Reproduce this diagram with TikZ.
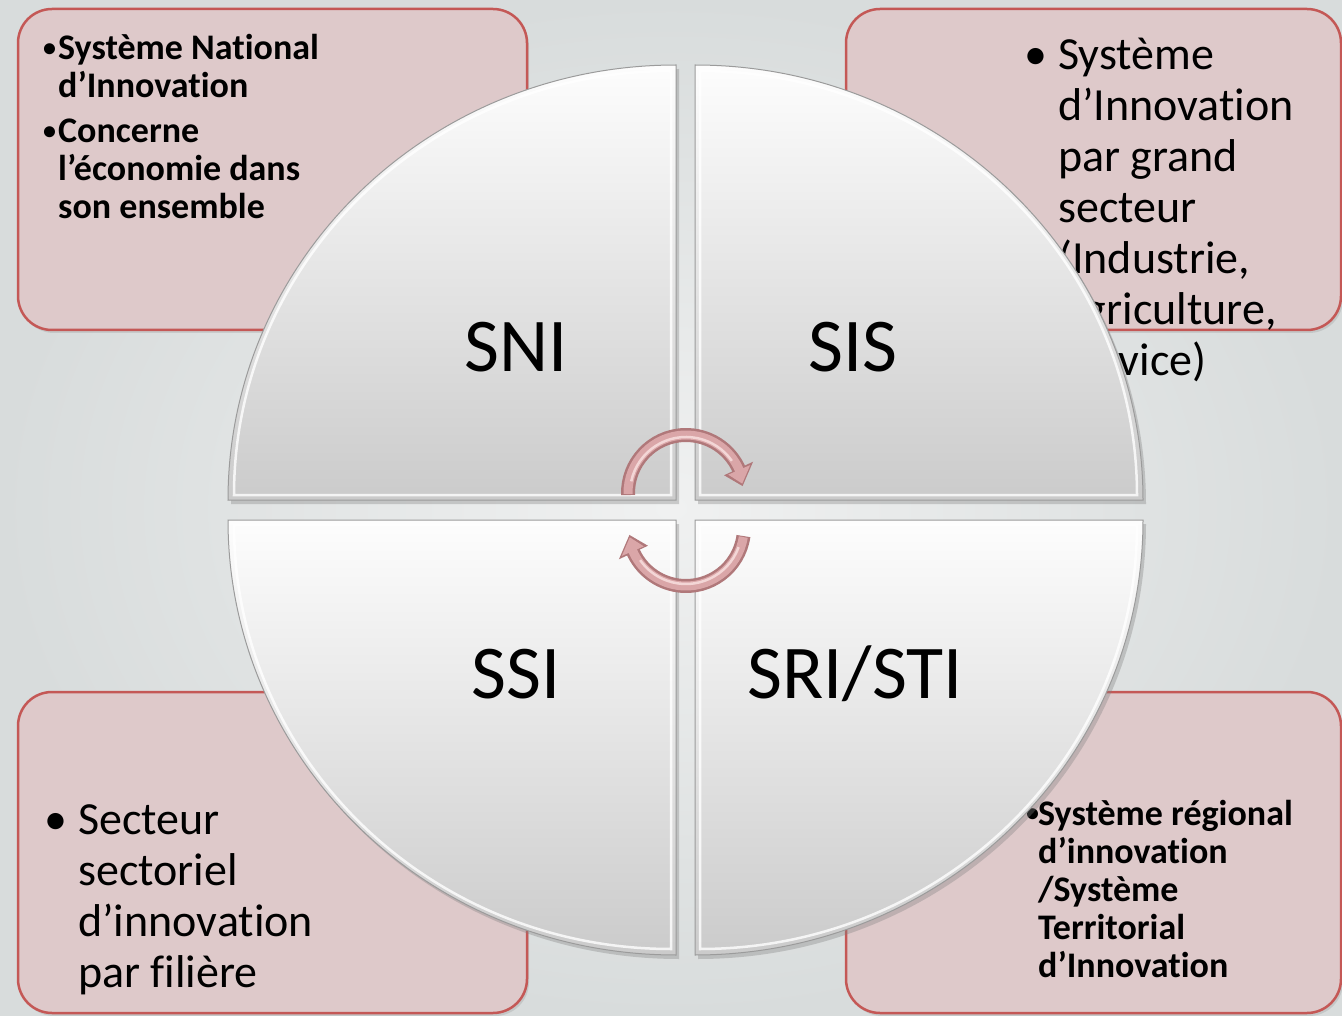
\documentclass[tikz,border=0pt]{standalone}
\usepackage{fontspec}
\setmainfont{Carlito}[Ligatures={NoCommon}]
\usetikzlibrary{calc,shadows}
\definecolor{bgin}{RGB}{240,241,241}
\definecolor{bgout}{RGB}{216,220,220}
\definecolor{boxfill}{RGB}{222,201,202}
\definecolor{boxline}{RGB}{196,88,86}
\definecolor{quadtop}{RGB}{253,253,253}
\definecolor{quadbot}{RGB}{203,203,203}
\definecolor{quadline}{RGB}{155,155,155}
\definecolor{arrdark}{RGB}{176,120,122}
\definecolor{arrmid}{RGB}{218,166,168}
\definecolor{arrlight}{RGB}{243,214,214}
\newcommand{\bbul}{\raisebox{3.5pt}{\fontsize{26}{26}\selectfont •}}
\begin{document}
\begin{tikzpicture}[x=1pt,y=-1pt,
  pbox/.style={rounded corners=34pt, fill=boxfill, draw=boxline, line width=2.5pt,
    drop shadow={opacity=0.22, shadow xshift=2pt, shadow yshift=-3pt}},
  quad/.style={top color=quadtop, bottom color=quadbot, draw=quadline, line width=1pt,
    drop shadow={opacity=0.35, shadow xshift=3pt, shadow yshift=-4pt}},
  bevel/.style={draw=white, line width=2.5pt, opacity=0.8},
  boldtxt/.style={anchor=base west, inner sep=0pt, font=\bfseries\fontsize{36}{38}\selectfont},
  regtxt/.style={anchor=base west, inner sep=0pt, font=\fontsize{46}{51}\selectfont},
  quadlabel/.style={anchor=base, inner sep=0pt, font=\fontsize{76}{80}\selectfont},
  arrbody/.style={arrdark, line width=14pt},
  arrinner/.style={arrmid, line width=9pt},
  arrhigh/.style={arrlight, line width=2.5pt}
]
\useasboundingbox (0,0) rectangle (1342,1016);
\shade[inner color=bgin, outer color=bgout] (0,0) rectangle (1342,1016);

% boxes
\path[pbox] (18,9) rectangle (527,330);
\path[pbox] (846,9) rectangle (1341,330);
\path[pbox] (18,692) rectangle (527,1013);
\path[pbox] (846,692) rectangle (1341,1013);

% box texts
\node[boldtxt] (tltext) at (43,60) {\begin{tabular}[t]{@{}l@{}}\makebox[15pt][l]{\bbul}Système National\\ \hspace*{15pt}d’Innovation\\[7pt] \makebox[15pt][l]{\bbul}Concerne\\ \hspace*{15pt}l’économie dans\\ \hspace*{15pt}son ensemble\end{tabular}};
\node[regtxt] (trtext) at (1024,70) {\begin{tabular}[t]{@{}l@{}}\makebox[34pt][l]{•}Système\\ \hspace*{34pt}d’Innovation\\ \hspace*{34pt}par grand\\ \hspace*{34pt}secteur\\ \hspace*{34pt}(Industrie,\\ \hspace*{34pt}Agriculture,\\ \hspace*{34pt}Service)\end{tabular}};
\node[regtxt] (bltext) at (44,834) {\begin{tabular}[t]{@{}l@{}}\makebox[34pt][l]{•}Secteur\\ \hspace*{34pt}sectoriel\\ \hspace*{34pt}d’innovation\\ \hspace*{34pt}par filière\end{tabular}};
\node[boldtxt] (brtext) at (1026,825) {\begin{tabular}[t]{@{}l@{}}\makebox[12pt][l]{\bbul}Système régional\\ \hspace*{12pt}d’innovation\\ \hspace*{12pt}/Système\\ \hspace*{12pt}Territorial\\ \hspace*{12pt}d’Innovation\end{tabular}};

% quadrants
\path[quad] (676,500) -- (228,500) arc[start angle=180, end angle=270, x radius=448, y radius=435] -- cycle;
\path[quad] (695,500) -- (695,65) arc[start angle=270, end angle=360, x radius=448, y radius=435] -- cycle;
\path[quad] (676,520) -- (676,955) arc[start angle=90, end angle=180, x radius=448, y radius=435] -- cycle;
\path[quad] (695,520) -- (1143,520) arc[start angle=0, end angle=90, x radius=448, y radius=435] -- cycle;
% bevels
\path[bevel] (671,495) -- (234,495) arc[start angle=180, end angle=270, x radius=437, y radius=424] -- cycle;
\path[bevel] (700,495) -- (700,71) arc[start angle=270, end angle=360, x radius=437, y radius=424] -- cycle;
\path[bevel] (671,525) -- (671,949) arc[start angle=90, end angle=180, x radius=437, y radius=424] -- cycle;
\path[bevel] (700,525) -- (1137,525) arc[start angle=0, end angle=90, x radius=437, y radius=424] -- cycle;

% labels
\node[quadlabel] (sni) at (516,372) {SNI};
\node[quadlabel] (sis) at (853,372) {SIS};
\node[quadlabel] (ssi) at (516,698) {SSI};
\node[quadlabel] (sri) at (855,698) {SRI/STI};

% cycle arrows
\coordinate (ca) at (686,493);
\coordinate (cb) at (686,528);
\draw[arrbody] ($(ca)+(178:58)$) arc[start angle=178, end angle=337, radius=58];
\fill[arrdark] ($(ca)+(335:42)$) -- ($(ca)+(335:74)$) -- ($(ca)+(353:57)$) -- cycle;
\draw[arrinner] ($(ca)+(179:58)$) arc[start angle=179, end angle=337, radius=58];
\fill[arrmid] ($(ca)+(336.5:46)$) -- ($(ca)+(336.5:70)$) -- ($(ca)+(350.5:57)$) -- cycle;
\draw[arrhigh] ($(ca)+(192:56)$) arc[start angle=192, end angle=325, radius=56];

\draw[arrbody] ($(cb)+(8:58)$) arc[start angle=8, end angle=157, radius=58];
\fill[arrdark] ($(cb)+(155:42)$) -- ($(cb)+(155:74)$) -- ($(cb)+(173:57)$) -- cycle;
\draw[arrinner] ($(cb)+(9:58)$) arc[start angle=9, end angle=157, radius=58];
\fill[arrmid] ($(cb)+(156.5:46)$) -- ($(cb)+(156.5:70)$) -- ($(cb)+(170.5:57)$) -- cycle;
\draw[arrhigh] ($(cb)+(20:56)$) arc[start angle=20, end angle=145, radius=56];
\end{tikzpicture}
\end{document}
